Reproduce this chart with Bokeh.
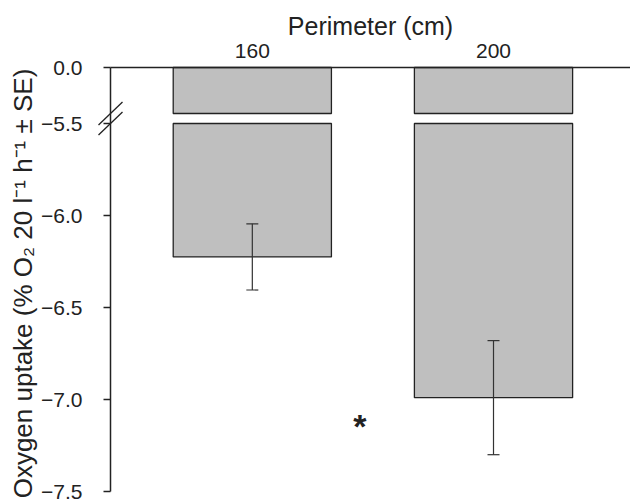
import math
from bokeh.plotting import figure
from bokeh.models import (Range1d, LinearAxis, FixedTicker, CustomJSTickFormatter,
                          ColumnDataSource, Whisker, TeeHead)
from bokeh.core.properties import value
from bokeh.embed import file_html
from bokeh.resources import INLINE

# ---------------- data ----------------
PERIMETERS = ["160", "200"]          # category tick labels
BAR_POS = [1, 2]                     # positions of the categories
MEANS = [-6.225, -6.99]              # oxygen uptake means
SE = [0.18, 0.31]                    # standard errors
Y_TICKS_LOWER = [-5.5, -6.0, -6.5, -7.0, -7.5]
Y_TICKS_UPPER = [0.0]
UPPER_SEGMENT = [0.0, -5.4]          # axis part drawn above the break
LOWER_SEGMENT = [-5.5, -7.5]         # axis part drawn below the break
SIG_X = [1.446]                      # significance marker
SIG_Y = [-7.13]
SIG_TEXT = ["*"]
X_TITLE = "Perimeter (cm)"
Y_TITLE = "Oxygen uptake (% O\u2082 20 l\u207b\u00b9 h\u207b\u00b9 \u00b1 SE)"

# ---------------- layout / style (pixels) ----------------
W, H = 630, 499
AXIS_PX = 110                        # column of the y axis
ZERO_PX = 67                         # row of y = 0 (top axis line)
UPPER_PX = 46                        # height of the piece above the break
GAP_PX = 10                          # gap of the break
LOWER_PX = 368                       # height of the piece below the break
X_AXIS_POS, X_END = 0.412, 2.568
BAR_W = 0.656
FONT = "Liberation Sans"
BAR_FILL = "#bfbfbf"
INK = "#222222"
SLASH_HALF_W, SLASH_HALF_H = 12, 11.5
YTITLE_PX = (22, 283)                # centre of the rotated y title
XTITLE_BASE_PX = 25                  # anchor row of the x title

lower_scale = LOWER_PX / (LOWER_SEGMENT[0] - LOWER_SEGMENT[1])
upper_scale = UPPER_PX / (UPPER_SEGMENT[0] - UPPER_SEGMENT[1])
x_scale = (W - AXIS_PX) / (X_END - X_AXIS_POS)
X_START = X_AXIS_POS - AXIS_PX / x_scale
LOWER_TOP_PX = ZERO_PX + UPPER_PX + GAP_PX   # row of LOWER_SEGMENT[0]

lower_end = LOWER_SEGMENT[0] + LOWER_TOP_PX / lower_scale
y_lower = Range1d(lower_end - H / lower_scale, lower_end)
upper_end = UPPER_SEGMENT[0] + ZERO_PX / upper_scale
y_upper = Range1d(upper_end - H / upper_scale, upper_end)

def lower_y(px):
    return lower_end - px / lower_scale

def upper_y(px):
    return upper_end - px / upper_scale

def data_x(px):
    return X_START + px / x_scale

p = figure(width=W, height=H, x_range=Range1d(X_START, X_END), y_range=y_lower,
           x_axis_location=None, y_axis_location=None,
           output_backend="svg", toolbar_location=None,
           min_border_left=0, min_border_right=0,
           min_border_top=0, min_border_bottom=0)
p.extra_y_ranges = {"upper": y_upper}
p.outline_line_color = None
p.grid.visible = False
p.background_fill_color = "white"
p.border_fill_color = "white"

yfmt = CustomJSTickFormatter(code="return (tick < 0 ? '\\u2212' : '') + Math.abs(tick).toFixed(1)")

def make_y_axis(**kw):
    ax = LinearAxis(fixed_location=X_AXIS_POS, formatter=yfmt, **kw)
    ax.major_tick_out = 7
    ax.major_tick_in = 0
    ax.minor_tick_line_color = None
    ax.major_tick_line_color = INK
    ax.major_tick_line_width = 1.5
    ax.axis_line_color = INK
    ax.axis_line_width = 1.5
    ax.major_label_standoff = 21
    ax.major_label_text_font = FONT
    ax.major_label_text_font_size = "21px"
    ax.major_label_text_color = INK
    return ax

yax = make_y_axis(ticker=FixedTicker(ticks=Y_TICKS_LOWER),
                  bounds=(LOWER_SEGMENT[1], lower_y(ZERO_PX)))
p.add_layout(yax, "left")
yax_up = make_y_axis(y_range_name="upper", ticker=FixedTicker(ticks=Y_TICKS_UPPER))
yax_up.axis_line_color = None
p.add_layout(yax_up, "left")

# top x axis at y = 0
xax = LinearAxis(fixed_location=lower_y(ZERO_PX), bounds=(X_AXIS_POS, X_END),
                 ticker=FixedTicker(ticks=BAR_POS),
                 formatter=CustomJSTickFormatter(args=dict(labels=PERIMETERS, pos=BAR_POS),
                     code="const i = pos.indexOf(Math.round(tick)); return i >= 0 ? labels[i] : '';"))
xax.major_tick_line_color = None
xax.minor_tick_line_color = None
xax.major_tick_out = 0
xax.major_tick_in = 0
xax.axis_line_color = INK
xax.axis_line_width = 1.5
xax.major_label_standoff = 10
xax.major_label_text_font = FONT
xax.major_label_text_font_size = "21px"
xax.major_label_text_color = INK
p.add_layout(xax, "above")

# x title
p.text(x=[(X_AXIS_POS + X_END) / 2], y=[upper_y(XTITLE_BASE_PX)], text=[X_TITLE],
       y_range_name="upper", text_font=value(FONT), text_font_size="25px",
       text_color=INK, text_align="center", text_baseline="middle")

# bars: upper piece (0 .. break) and lower piece (break .. mean)
upper_src = ColumnDataSource(dict(x=BAR_POS,
                                  top=[UPPER_SEGMENT[0]] * len(BAR_POS),
                                  bottom=[UPPER_SEGMENT[1]] * len(BAR_POS)))
p.vbar(x="x", top="top", bottom="bottom", width=BAR_W, source=upper_src,
       y_range_name="upper", fill_color=BAR_FILL, line_color=INK, line_width=1.3)

lower_src = ColumnDataSource(dict(x=BAR_POS,
                                  top=[LOWER_SEGMENT[0]] * len(BAR_POS),
                                  mean=MEANS,
                                  upper=[m + s for m, s in zip(MEANS, SE)],
                                  lower=[m - s for m, s in zip(MEANS, SE)]))
p.vbar(x="x", top="top", bottom="mean", width=BAR_W, source=lower_src,
       fill_color=BAR_FILL, line_color=INK, line_width=1.3)

# error bars
w = Whisker(base="x", upper="upper", lower="lower", source=lower_src,
            line_color="#333333", line_width=1.2, level="annotation",
            upper_head=TeeHead(size=12, line_color="#333333", line_width=1.2),
            lower_head=TeeHead(size=12, line_color="#333333", line_width=1.2))
p.add_layout(w)

# significance marker
sig_src = ColumnDataSource(dict(x=SIG_X, y=SIG_Y, t=SIG_TEXT))
p.text(x="x", y="y", text="t", source=sig_src, text_font=value(FONT),
       text_font_size="34px", text_font_style="bold", text_color=INK,
       text_align="center", text_baseline="middle", y_offset=3)

# axis break marks
dx = SLASH_HALF_W / x_scale
for yc, rng, sc in [(UPPER_SEGMENT[1], "upper", upper_scale),
                    (LOWER_SEGMENT[0], "default", lower_scale)]:
    dy = SLASH_HALF_H / sc
    p.segment(x0=[X_AXIS_POS - dx], y0=[yc - dy], x1=[X_AXIS_POS + dx], y1=[yc + dy],
              y_range_name=rng, line_color=INK, line_width=1.3)

# rotated y title
p.text(x=[data_x(YTITLE_PX[0])], y=[lower_y(YTITLE_PX[1])], text=[Y_TITLE], angle=math.pi / 2,
       text_font=value(FONT), text_font_size="26px", text_color=INK,
       text_align="center", text_baseline="middle")

open("out.html", "w").write(file_html(p, INLINE))
